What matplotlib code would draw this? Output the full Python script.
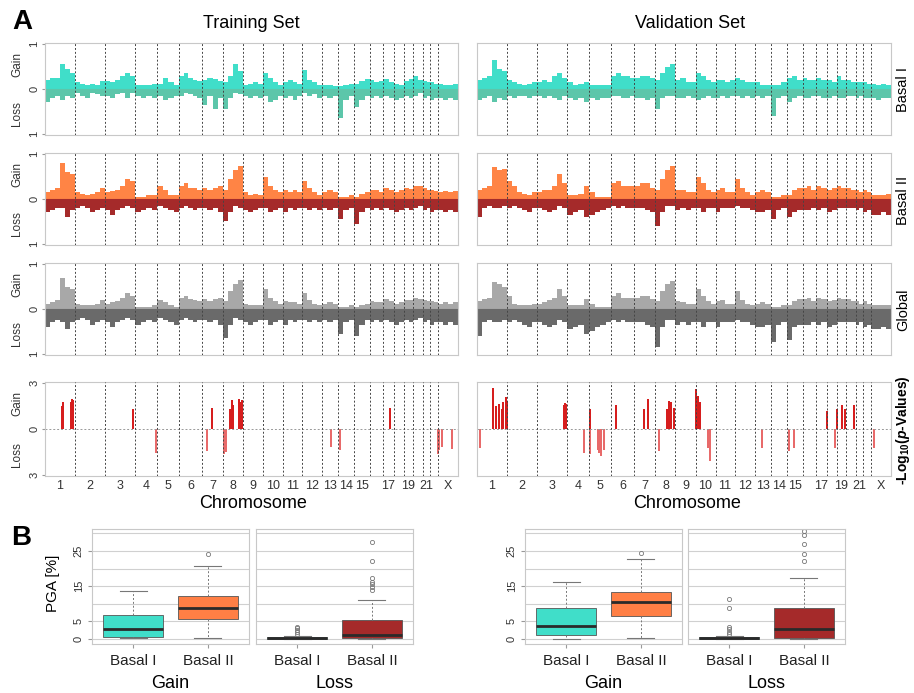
import matplotlib.pyplot as plt
import numpy as np

plt.rcParams['font.family'] = ['Liberation Sans', 'DejaVu Sans']
plt.rcParams['mathtext.fontset'] = 'custom'
plt.rcParams['mathtext.rm'] = 'Liberation Sans:bold'
plt.rcParams['mathtext.it'] = 'Liberation Sans:italic:bold'

W, H = 914, 693

# chromosomes: relative plotted size and number of profile bins
chrom_labels = ['1', '2', '3', '4', '5', '6', '7', '8', '9', '10', '11', '12',
                '13', '14', '15', '', '17', '', '19', '', '21', '', 'X']
chrom_size = [30, 30, 30, 22, 22, 23, 21, 20, 20, 20, 19, 20, 16, 16, 16, 13, 11, 10, 9, 10, 7, 8, 20]
chrom_bins = [6, 6, 6, 4, 4, 5, 4, 4, 4, 4, 4, 4, 3, 3, 3, 3, 2, 2, 2, 2, 2, 2, 4]

# ---- Training set profiles (fraction of samples) ----
train_b1_gain = [0.20, 0.25, 0.25, 0.55, 0.45, 0.35,  0.15, 0.12, 0.10, 0.12, 0.10, 0.18,
                 0.18, 0.15, 0.20, 0.30, 0.35, 0.30,  0.10, 0.08, 0.10, 0.12,  0.12, 0.25, 0.15, 0.10,
                 0.30, 0.35, 0.25, 0.20, 0.18,  0.20, 0.25, 0.22, 0.18,  0.15, 0.30, 0.55, 0.40,
                 0.10, 0.12, 0.15, 0.12,  0.35, 0.25, 0.15, 0.10,  0.15, 0.20, 0.15, 0.12,
                 0.42, 0.20, 0.15, 0.10,  0.08, 0.10, 0.06,  0.06, 0.10, 0.12,  0.12, 0.18, 0.22,
                 0.20, 0.15, 0.18,  0.22, 0.15,  0.12, 0.10,  0.18, 0.22,  0.28, 0.20,  0.18, 0.15,
                 0.15, 0.12,  0.12, 0.10, 0.08, 0.12]
train_b1_loss = [0.30, 0.20, 0.15, 0.25, 0.15, 0.20,  0.10, 0.15, 0.20, 0.10, 0.12, 0.15,
                 0.15, 0.20, 0.12, 0.10, 0.20, 0.10,  0.15, 0.20, 0.15, 0.20,  0.15, 0.25, 0.20, 0.15,
                 0.15, 0.10, 0.12, 0.15, 0.20,  0.35, 0.15, 0.45, 0.20,  0.45, 0.20, 0.10, 0.12,
                 0.15, 0.20, 0.15, 0.20,  0.15, 0.30, 0.25, 0.15,  0.20, 0.15, 0.25, 0.15,
                 0.10, 0.15, 0.12, 0.20,  0.15, 0.20, 0.15,  0.65, 0.25, 0.15,  0.40, 0.25, 0.15,
                 0.20, 0.15, 0.20,  0.15, 0.20,  0.25, 0.20,  0.15, 0.20,  0.15, 0.10,  0.20, 0.15,
                 0.25, 0.20,  0.20, 0.25, 0.20, 0.25]
train_b2_gain = [0.15, 0.20, 0.25, 0.80, 0.60, 0.55,  0.15, 0.12, 0.10, 0.12, 0.15, 0.25,
                 0.15, 0.18, 0.20, 0.30, 0.45, 0.40,  0.05, 0.05, 0.08, 0.10,  0.30, 0.20, 0.10, 0.08,
                 0.30, 0.35, 0.25, 0.25, 0.20,  0.25, 0.20, 0.25, 0.30,  0.20, 0.45, 0.65, 0.75,
                 0.15, 0.10, 0.12, 0.10,  0.50, 0.30, 0.20, 0.15,  0.20, 0.15, 0.20, 0.15,
                 0.40, 0.25, 0.15, 0.10,  0.15, 0.20, 0.15,  0.05, 0.05, 0.10,  0.05, 0.12, 0.15,
                 0.20, 0.20, 0.15,  0.25, 0.20,  0.15, 0.20,  0.25, 0.22,  0.30, 0.28,  0.25, 0.20,
                 0.20, 0.18,  0.15, 0.18, 0.15, 0.18]
train_b2_loss = [0.30, 0.25, 0.20, 0.20, 0.40, 0.25,  0.20, 0.15, 0.20, 0.30, 0.25, 0.20,
                 0.25, 0.35, 0.25, 0.20, 0.15, 0.20,  0.30, 0.25, 0.20, 0.25,  0.15, 0.20, 0.25, 0.30,
                 0.20, 0.15, 0.20, 0.25, 0.20,  0.20, 0.25, 0.20, 0.30,  0.50, 0.30, 0.15, 0.20,
                 0.25, 0.30, 0.25, 0.20,  0.20, 0.30, 0.25, 0.20,  0.30, 0.20, 0.25, 0.20,
                 0.20, 0.25, 0.20, 0.25,  0.20, 0.25, 0.20,  0.45, 0.25, 0.20,  0.55, 0.30, 0.20,
                 0.25, 0.20, 0.25,  0.20, 0.25,  0.30, 0.25,  0.20, 0.25,  0.20, 0.15,  0.25, 0.20,
                 0.30, 0.25,  0.25, 0.30, 0.25, 0.30]
train_gl_gain = [0.12, 0.15, 0.20, 0.70, 0.50, 0.45,  0.12, 0.10, 0.08, 0.10, 0.12, 0.20,
                 0.12, 0.15, 0.18, 0.25, 0.35, 0.30,  0.05, 0.05, 0.05, 0.08,  0.20, 0.15, 0.08, 0.05,
                 0.25, 0.30, 0.22, 0.20, 0.18,  0.22, 0.18, 0.22, 0.25,  0.18, 0.40, 0.55, 0.65,
                 0.12, 0.08, 0.10, 0.08,  0.45, 0.25, 0.18, 0.12,  0.18, 0.15, 0.15, 0.12,
                 0.35, 0.20, 0.12, 0.08,  0.12, 0.15, 0.12,  0.05, 0.05, 0.08,  0.05, 0.10, 0.12,
                 0.18, 0.15, 0.15,  0.22, 0.18,  0.12, 0.15,  0.20, 0.20,  0.25, 0.22,  0.20, 0.18,
                 0.18, 0.15,  0.12, 0.15, 0.12, 0.15]
train_gl_loss = [0.40, 0.30, 0.25, 0.30, 0.45, 0.30,  0.25, 0.20, 0.25, 0.35, 0.30, 0.25,
                 0.30, 0.40, 0.30, 0.25, 0.20, 0.25,  0.35, 0.30, 0.25, 0.30,  0.20, 0.25, 0.30, 0.35,
                 0.25, 0.20, 0.25, 0.30, 0.25,  0.25, 0.30, 0.25, 0.35,  0.65, 0.35, 0.20, 0.25,
                 0.30, 0.35, 0.30, 0.25,  0.25, 0.35, 0.30, 0.25,  0.35, 0.25, 0.30, 0.25,
                 0.25, 0.30, 0.25, 0.30,  0.25, 0.30, 0.25,  0.55, 0.30, 0.25,  0.60, 0.35, 0.25,
                 0.30, 0.25, 0.30,  0.25, 0.30,  0.35, 0.30,  0.25, 0.30,  0.25, 0.20,  0.30, 0.25,
                 0.35, 0.30,  0.30, 0.35, 0.30, 0.35]

# ---- Validation set profiles ----
valid_b1_gain = [0.20, 0.25, 0.30, 0.65, 0.45, 0.40,  0.20, 0.15, 0.12, 0.10, 0.12, 0.15,
                 0.15, 0.20, 0.15, 0.30, 0.35, 0.25,  0.15, 0.10, 0.12, 0.15,  0.10, 0.10, 0.10, 0.10,
                 0.30, 0.35, 0.30, 0.30, 0.25,  0.25, 0.30, 0.30, 0.25,  0.20, 0.35, 0.50, 0.55,
                 0.20, 0.25, 0.15, 0.15,  0.35, 0.30, 0.20, 0.15,  0.20, 0.20, 0.15, 0.20,
                 0.25, 0.20, 0.15, 0.15,  0.15, 0.10, 0.10,  0.10, 0.10, 0.15,  0.25, 0.30, 0.20,
                 0.25, 0.20, 0.20,  0.25, 0.20,  0.20, 0.15,  0.30, 0.20,  0.20, 0.15,  0.15, 0.15,
                 0.15, 0.12,  0.12, 0.10, 0.12, 0.10]
valid_b1_loss = [0.25, 0.20, 0.15, 0.30, 0.20, 0.25,  0.15, 0.20, 0.15, 0.15, 0.20, 0.15,
                 0.15, 0.20, 0.15, 0.20, 0.25, 0.15,  0.20, 0.25, 0.20, 0.30,  0.20, 0.25, 0.20, 0.20,
                 0.15, 0.15, 0.20, 0.20, 0.15,  0.20, 0.20, 0.25, 0.20,  0.45, 0.20, 0.15, 0.15,
                 0.20, 0.20, 0.15, 0.20,  0.25, 0.20, 0.15, 0.20,  0.20, 0.15, 0.20, 0.15,
                 0.15, 0.20, 0.15, 0.20,  0.15, 0.20, 0.15,  0.60, 0.20, 0.15,  0.30, 0.20, 0.15,
                 0.20, 0.20, 0.15,  0.15, 0.20,  0.20, 0.15,  0.20, 0.20,  0.15, 0.15,  0.20, 0.15,
                 0.20, 0.20,  0.20, 0.25, 0.20, 0.20]
valid_b2_gain = [0.20, 0.25, 0.30, 0.72, 0.65, 0.68,  0.40, 0.30, 0.15, 0.12, 0.10, 0.15,
                 0.15, 0.20, 0.20, 0.30, 0.55, 0.35,  0.10, 0.10, 0.12, 0.30,  0.15, 0.05, 0.05, 0.05,
                 0.35, 0.40, 0.30, 0.30, 0.30,  0.30, 0.35, 0.35, 0.25,  0.20, 0.45, 0.65, 0.75,
                 0.20, 0.20, 0.15, 0.15,  0.50, 0.35, 0.20, 0.15,  0.20, 0.25, 0.15, 0.15,
                 0.45, 0.25, 0.15, 0.10,  0.15, 0.20, 0.15,  0.05, 0.05, 0.10,  0.10, 0.20, 0.25,
                 0.25, 0.30, 0.20,  0.30, 0.25,  0.20, 0.25,  0.30, 0.25,  0.25, 0.20,  0.20, 0.15,
                 0.20, 0.15,  0.10, 0.10, 0.10, 0.12]
valid_b2_loss = [0.40, 0.20, 0.15, 0.20, 0.20, 0.15,  0.20, 0.15, 0.20, 0.25, 0.30, 0.20,
                 0.20, 0.25, 0.30, 0.25, 0.15, 0.20,  0.35, 0.30, 0.25, 0.40,  0.35, 0.30, 0.25, 0.20,
                 0.15, 0.20, 0.15, 0.20, 0.20,  0.20, 0.20, 0.25, 0.30,  0.60, 0.30, 0.15, 0.15,
                 0.25, 0.20, 0.25, 0.20,  0.20, 0.30, 0.20, 0.20,  0.30, 0.20, 0.20, 0.20,
                 0.15, 0.20, 0.20, 0.25,  0.30, 0.30, 0.25,  0.45, 0.25, 0.20,  0.40, 0.30, 0.25,
                 0.25, 0.25, 0.20,  0.25, 0.20,  0.30, 0.25,  0.20, 0.20,  0.20, 0.20,  0.25, 0.20,
                 0.30, 0.25,  0.35, 0.35, 0.30, 0.35]
valid_gl_gain = [0.18, 0.22, 0.25, 0.60, 0.55, 0.50,  0.30, 0.12, 0.10, 0.08, 0.10, 0.12,
                 0.12, 0.15, 0.20, 0.25, 0.45, 0.30,  0.08, 0.08, 0.08, 0.22,  0.12, 0.05, 0.05, 0.05,
                 0.30, 0.35, 0.25, 0.25, 0.25,  0.25, 0.30, 0.30, 0.22,  0.18, 0.40, 0.55, 0.62,
                 0.18, 0.15, 0.12, 0.12,  0.45, 0.30, 0.18, 0.12,  0.18, 0.20, 0.12, 0.12,
                 0.40, 0.20, 0.12, 0.08,  0.12, 0.15, 0.12,  0.05, 0.05, 0.08,  0.08, 0.18, 0.22,
                 0.22, 0.25, 0.18,  0.25, 0.22,  0.18, 0.20,  0.25, 0.22,  0.22, 0.18,  0.18, 0.12,
                 0.18, 0.12,  0.08, 0.10, 0.08, 0.10]
valid_gl_loss = [0.60, 0.30, 0.25, 0.30, 0.30, 0.25,  0.30, 0.25, 0.30, 0.35, 0.40, 0.30,
                 0.30, 0.35, 0.40, 0.35, 0.25, 0.30,  0.45, 0.40, 0.35, 0.55,  0.50, 0.40, 0.35, 0.30,
                 0.25, 0.30, 0.25, 0.30, 0.30,  0.30, 0.30, 0.35, 0.40,  0.85, 0.40, 0.25, 0.25,
                 0.35, 0.30, 0.35, 0.30,  0.30, 0.40, 0.30, 0.30,  0.40, 0.30, 0.30, 0.30,
                 0.25, 0.30, 0.30, 0.35,  0.40, 0.40, 0.35,  0.75, 0.35, 0.30,  0.70, 0.40, 0.35,
                 0.35, 0.35, 0.30,  0.35, 0.30,  0.40, 0.35,  0.30, 0.30,  0.30, 0.30,  0.35, 0.30,
                 0.40, 0.35,  0.45, 0.45, 0.40, 0.45]

# ---- -log10(p) bars: (genome position, value), positive = gain, negative = loss ----
train_p_pos = [16.5, 17.5, 25.7, 27.0, 28.3, 88.3, 167.3, 185.0, 186.5, 187.7, 194.3, 195.5, 196.7, 345.0,
               110.7, 162.3, 179.0, 181.0, 286.0, 295.0, 393.3, 394.3, 396.7, 406.7]
train_p_val = [1.5, 1.8, 1.8, 2.0, 1.9, 1.3, 1.35, 1.3, 1.9, 1.6, 2.0, 1.8, 1.9, 1.35,
               -1.55, -1.45, -1.65, -1.5, -1.2, -1.4, -1.65, -1.4, -1.2, -1.3]
valid_p_pos = [16.3, 19.0, 22.3, 24.7, 26.3, 28.7, 29.7, 86.3, 88.0, 89.0, 113.0, 139.0, 166.3, 170.7,
               189.7, 191.5, 193.5, 196.3, 218.0, 220.0, 222.7, 349.0, 359.0, 363.7, 367.0, 375.7,
               3.0, 107.0, 112.3, 120.3, 122.0, 124.0, 127.0, 182.0, 230.3, 232.0, 284.7, 311.3, 316.3,
               357.0, 395.7]
valid_p_val = [2.7, 1.5, 1.65, 1.3, 1.75, 2.1, 1.85, 1.6, 1.7, 1.65, 1.3, 1.6, 1.3, 2.0,
               1.3, 1.85, 1.8, 1.35, 2.6, 2.2, 1.75, 1.2, 1.3, 1.55, 1.3, 1.55,
               -1.25, -1.55, -1.65, -1.4, -1.6, -1.75, -1.4, -1.45, -1.25, -2.1, -1.25, -1.45, -1.25,
               -1.25, -1.25]

# ---- PGA boxplot summaries [%] ----
groups = ['Basal I', 'Basal II']
train_gain_stats = [dict(whislo=0.2, q1=0.6, med=2.8, q3=6.9, whishi=13.6, fliers=[]),
                    dict(whislo=0.2, q1=5.7, med=8.9, q3=12.2, whishi=20.7, fliers=[24.1])]
train_loss_stats = [dict(whislo=0.0, q1=0.05, med=0.3, q3=0.6, whishi=0.9, fliers=[1.3, 1.9, 2.5, 3.0, 3.5]),
                    dict(whislo=0.1, q1=0.3, med=1.2, q3=5.4, whishi=11.1,
                         fliers=[13.9, 14.7, 15.5, 16.3, 17.3, 22.0, 27.4])]
valid_gain_stats = [dict(whislo=0.1, q1=1.1, med=3.7, q3=8.9, whishi=16.3, fliers=[]),
                    dict(whislo=0.2, q1=6.6, med=10.6, q3=13.4, whishi=22.6, fliers=[24.3])]
valid_loss_stats = [dict(whislo=0.0, q1=0.05, med=0.2, q3=0.45, whishi=0.8, fliers=[1.5, 2.0, 2.8, 3.3, 8.9, 11.3]),
                    dict(whislo=0.0, q1=0.2, med=2.75, q3=8.9, whishi=17.2,
                         fliers=[22.0, 24.1, 26.9, 29.5, 30.5])]

col_b1 = ('#40DEC9', '#5CC6AA')
col_b2 = ('#FF8445', '#A52A2A')
col_gl = ('#A8A8A8', '#6A6A6A')
frame_col = '#c8c8c8'

# bin geometry
lefts, widths = [], []
start = 0
for size, n in zip(chrom_size, chrom_bins):
    for i in range(n):
        lefts.append(start + i * size / n)
        widths.append(size / n)
    start += size
lefts = np.array(lefts)
widths = np.array(widths)
total = float(sum(chrom_size))
bounds = np.cumsum(chrom_size)[:-1]
centers = np.cumsum(chrom_size) - np.array(chrom_size) / 2.0


def rect(x0, y0, x1, y1):
    return [x0 / W, 1 - y1 / H, (x1 - x0) / W, (y1 - y0) / H]


def style_track(ax, lim, left_side, xlabels=False):
    ax.set_xlim(0, total)
    ax.set_ylim(-lim * 1.03, lim * 1.03)
    for b in bounds:
        ax.axvline(b, color='#444444', lw=0.7, ls=(0, (2, 2)), zorder=3)
    for s in ax.spines.values():
        s.set_color(frame_col)
        s.set_linewidth(0.8)
    if left_side:
        ax.set_yticks([-lim, 0, lim])
        ax.set_yticklabels([str(lim), '0', str(lim)], rotation=90, va='center', fontsize=8, color='#333333')
        ax.tick_params(axis='y', length=2, pad=2, color='#999999')
        ax.text(-0.068, 0.77, 'Gain', rotation=90, transform=ax.transAxes,
                ha='center', va='center', fontsize=8.5, color='#333333')
        ax.text(-0.068, 0.23, 'Loss', rotation=90, transform=ax.transAxes,
                ha='center', va='center', fontsize=8.5, color='#333333')
    else:
        ax.set_yticks([])
    if xlabels:
        ax.set_xticks(centers)
        ax.set_xticklabels(chrom_labels, fontsize=9, color='#333333')
        ax.tick_params(axis='x', length=0, pad=3)
    else:
        ax.set_xticks([])


fig = plt.figure(figsize=(W / 100, H / 100), dpi=100)

rows = [(43, 135), (153, 245), (263, 355)]
cols = [(45, 458), (477, 891)]
sets = [
    [(train_b1_gain, train_b1_loss, col_b1), (train_b2_gain, train_b2_loss, col_b2),
     (train_gl_gain, train_gl_loss, col_gl)],
    [(valid_b1_gain, valid_b1_loss, col_b1), (valid_b2_gain, valid_b2_loss, col_b2),
     (valid_gl_gain, valid_gl_loss, col_gl)],
]

for ci, (x0, x1) in enumerate(cols):
    for ri, (y0, y1) in enumerate(rows):
        gain, loss, (cg, cl) = sets[ci][ri]
        ax = fig.add_axes(rect(x0, y0, x1, y1))
        ax.bar(lefts, gain, width=widths, align='edge', color=cg, lw=0)
        ax.bar(lefts, -np.array(loss), width=widths, align='edge', color=cl, lw=0)
        ax.axhline(0, color=cl, lw=0.8)
        style_track(ax, 1, ci == 0)

    # p-value track
    ax = fig.add_axes(rect(x0, 382, x1, 476))
    pos = train_p_pos if ci == 0 else valid_p_pos
    val = np.array(train_p_val if ci == 0 else valid_p_val)
    cols_p = np.where(val > 0, '#D61E1E', '#E86A6A')
    ax.bar(pos, val, width=2.0, color=cols_p, lw=0, zorder=2)
    ax.axhline(0, color='#999999', lw=0.7, ls=(0, (2, 2)))
    style_track(ax, 3, ci == 0, xlabels=True)

fig.text(251 / W, 1 - 24 / H, 'Training Set', ha='center', va='center', fontsize=13)
fig.text(690 / W, 1 - 24 / H, 'Validation Set', ha='center', va='center', fontsize=13)
fig.text(253 / W, 1 - 503 / H, 'Chromosome', ha='center', va='center', fontsize=13)
fig.text(687 / W, 1 - 504 / H, 'Chromosome', ha='center', va='center', fontsize=13)
for label, yc in [('Basal I', 90), ('Basal II', 200), ('Global', 310)]:
    fig.text(903 / W, 1 - yc / H, label, rotation=90, ha='center', va='center', fontsize=10.5)
fig.text(903 / W, 1 - 430 / H, '-Log$_{10}$($\\it{p}$-Values)', rotation=90, ha='center', va='center',
         fontsize=10, fontweight='bold')
fig.text(22 / W, 1 - 22 / H, 'A', ha='center', va='center', fontsize=20, fontweight='bold')
fig.text(21 / W, 1 - 538 / H, 'B', ha='center', va='center', fontsize=20, fontweight='bold')

# ---- boxplots ----
box_cols = {'gain': ['#40DEC9', '#FF7F45'], 'loss': ['#40DEC9', '#A52A2A']}
panels = [
    ((92, 249), train_gain_stats, 'gain', True, 'Gain'),
    ((256, 413), train_loss_stats, 'loss', False, 'Loss'),
    ((525, 682), valid_gain_stats, 'gain', True, 'Gain'),
    ((688, 845), valid_loss_stats, 'loss', False, 'Loss'),
]
for (x0, x1), stats, kind, show_y, name in panels:
    ax = fig.add_axes(rect(x0, 529, x1, 644))
    for v in range(0, 31, 5):
        ax.axhline(v, color='#d0d0d0', lw=0.8, zorder=0)
    bp = ax.bxp(stats, positions=[1, 2], widths=0.8, patch_artist=True, capwidths=0.36,
                boxprops=dict(edgecolor='#555555', lw=0.6),
                medianprops=dict(color='#2a2a2a', lw=2),
                whiskerprops=dict(color='#777777', lw=0.7, ls=(0, (2, 2))),
                capprops=dict(color='#777777', lw=0.8),
                flierprops=dict(marker='o', markersize=3, mfc='none', mec='#777777', mew=0.6))
    for patch, c in zip(bp['boxes'], box_cols[kind]):
        patch.set_facecolor(c)
    ax.set_xlim(0.45, 2.55)
    ax.set_ylim(-1.4, 31.2)
    ax.set_xticks([1, 2])
    ax.set_xticklabels(groups, fontsize=11, color='#222222')
    ax.tick_params(axis='x', length=3, color='#999999', pad=4)
    for s in ax.spines.values():
        s.set_color(frame_col)
        s.set_linewidth(0.8)
    if show_y:
        ax.set_yticks([0, 5, 15, 25])
        ax.set_yticklabels(['0', '5', '15', '25'], rotation=90, va='center', fontsize=8, color='#333333')
        ax.tick_params(axis='y', length=3, color='#999999', pad=3)
    else:
        ax.set_yticks([])
    fig.text((x0 + x1) / 2 / W, 1 - 683 / H, name, ha='center', va='center', fontsize=13)

fig.text(53 / W, 1 - 583 / H, 'PGA [%]', rotation=90, ha='center', va='center', fontsize=11)

fig.savefig('out.png', dpi=100)
